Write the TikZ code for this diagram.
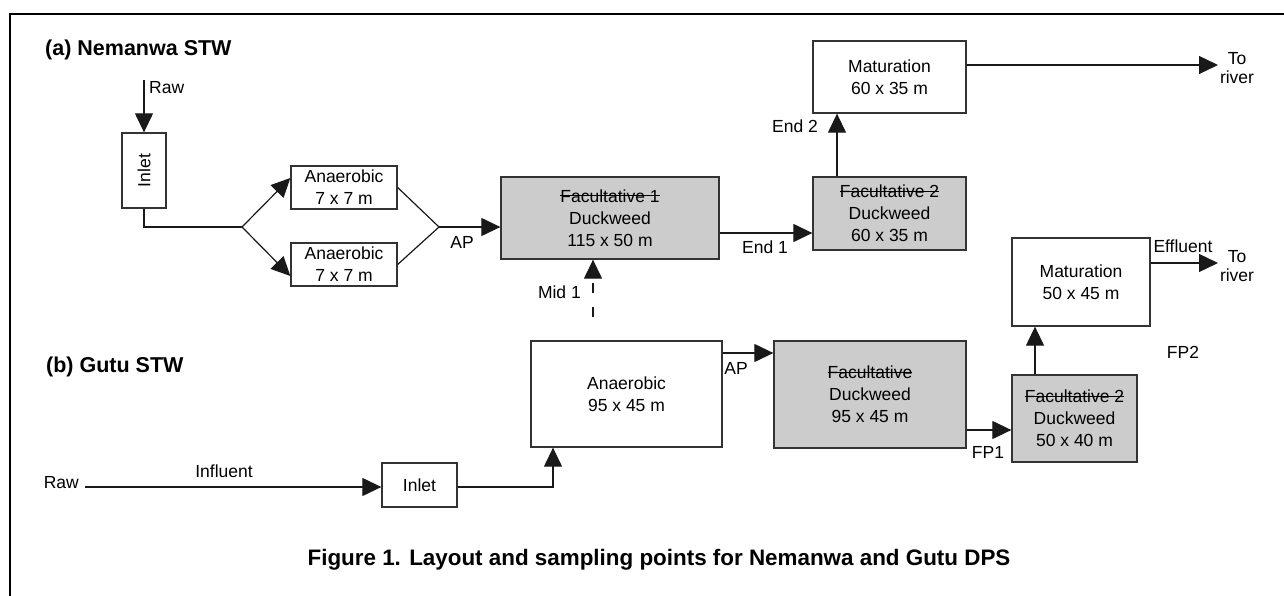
\documentclass[tikz,border=0pt]{standalone}
\usepackage{fontspec}
\setmainfont{Liberation Sans}
\usepackage{graphicx}
\newcommand{\strk}[1]{\setbox0\hbox{#1}\rlap{\rule[0.33em]{\wd0}{1pt}}\box0}
\usetikzlibrary{arrows.meta,calc}
\begin{document}
\begin{tikzpicture}[x=1pt,y=-1pt,
  every node/.style={font=\fontsize{17.5}{22}\selectfont, inner sep=0pt},
  box/.style={draw=black!80, line width=1.3pt, fill=white, align=center},
  gbox/.style={box, fill=black!20},
  arr/.style={draw=black!90, line width=1.2pt, -{Triangle[length=19pt,width=18pt]}},
  conn/.style={draw=black!90, line width=1.2pt},
  head/.style={font=\fontsize{21.5}{25}\selectfont\bfseries, anchor=west},
  river/.style={font=\fontsize{17.5}{19}\selectfont, align=center},
]
\useasboundingbox (0,0) rectangle (1284,596);
\draw[line width=2.2pt] (10,596) -- (10,14) -- (1284,14);

% ---------- (a) Nemanwa ----------
\node[head] (ha) at (45,50) {(a) Nemanwa STW};
\node[box, minimum width=44pt, minimum height=75pt] (inA) at (144,170.5) {\rotatebox{90}{Inlet}};
\node[box, minimum width=106pt, minimum height=43pt] (anA1) at (344,187.5) {Anaerobic\\7 x 7 m};
\node[box, minimum width=106pt, minimum height=43pt] (anA2) at (344,264.5) {Anaerobic\\7 x 7 m};
\node[gbox, minimum width=218pt, minimum height=82pt] (facA1) at (610,218) {\strk{Facultative 1}\\Duckweed\\115 x 50 m};
\node[gbox, minimum width=153pt, minimum height=73pt] (facA2) at (889.5,213.5) {\strk{Facultative 2}\\Duckweed\\60 x 35 m};
\node[box, minimum width=153pt, minimum height=72pt] (matA) at (889.5,77) {Maturation\\60 x 35 m};

\coordinate (rawA) at (144,80);
\node[anchor=west] (rawAl) at (149,88) {Raw};
\draw[arr] (rawA) -- (inA.north);
\coordinate (brA) at (242,227);
\draw[conn] (inA.south) |- (brA);
\draw[arr] (brA) -- ([yshift=9.5pt]anA1.west);
\draw[arr] (brA) -- ([yshift=-11.5pt]anA2.west);
\coordinate (mgA) at (439,227);
\draw[conn] (anA1.east) -- (mgA) -- (anA2.east);
\draw[arr] (mgA) -- (mgA -| facA1.west);
\node (apA) at (462,242) {AP};
\coordinate (mid1) at (593,317);
\draw[arr, dash pattern=on 10pt off 14pt] (mid1) -- (mid1 |- facA1.south);
\node[anchor=east] (mid1l) at (581,292) {Mid 1};
\draw[arr] ([yshift=-15pt]facA1.east) coordinate (e1) -- (e1 -| facA2.west);
\node (end1) at (765,247) {End 1};
\draw[arr] ([xshift=-52.5pt]facA2.north) -- ([xshift=-52.5pt]matA.south);
\node (end2) at (795,126) {End 2};
\coordinate (riverA) at (1218,65);
\draw[arr] (riverA -| matA.east) -- (riverA);
\node[river] (toA) at (1237,68.5) {To\\river};

% ---------- (b) Gutu ----------
\node[head] (hb) at (46,367) {(b) Gutu STW};
\node[box, minimum width=75pt, minimum height=44pt] (inB) at (419.5,485) {Inlet};
\node[box, minimum width=191pt, minimum height=106pt] (anB) at (626.5,394) {Anaerobic\\95 x 45 m};
\node[gbox, minimum width=192pt, minimum height=107pt] (facB) at (870,394.5) {\strk{Facultative}\\Duckweed\\95 x 45 m};
\node[gbox, minimum width=125pt, minimum height=87pt] (facB2) at (1074.5,418.5) {\strk{Facultative 2}\\Duckweed\\50 x 40 m};
\node[box, minimum width=138pt, minimum height=88pt] (matB) at (1081,282) {Maturation\\50 x 45 m};

\coordinate (rawB) at (85,487);
\node[anchor=east] (rawBl) at (79,483) {Raw};
\draw[arr] (rawB) -- (rawB -| inB.west);
\node (infl) at (224,471) {Influent};
\draw[arr] ([yshift=-2pt]inB.east) -| ([xshift=-73.5pt]anB.south);
\draw[arr] ([yshift=41pt]anB.east) coordinate (apB) -- (apB -| facB.west);
\node (apBl) at (736,368) {AP};
\draw[arr] ([yshift=-35.5pt]facB.east) coordinate (fp1) -- (fp1 -| facB2.west);
\node (fp1l) at (988,452) {FP1};
\draw[arr] ([xshift=-39.5pt]facB2.north) coordinate (up2) -- (up2 |- matB.south);
\coordinate (riverB) at (1218,263);
\draw[arr] (riverB -| matB.east) -- (riverB);
\node (effl) at (1183,246) {Effluent};
\node[river] (toB) at (1237,266) {To\\river};
\node (fp2l) at (1183,352) {FP2};

\node[font=\fontsize{22.4}{26}\selectfont\bfseries] (cap) at (659,560) {Figure 1. Layout and sampling points for Nemanwa and Gutu DPS};
\end{tikzpicture}
\end{document}
